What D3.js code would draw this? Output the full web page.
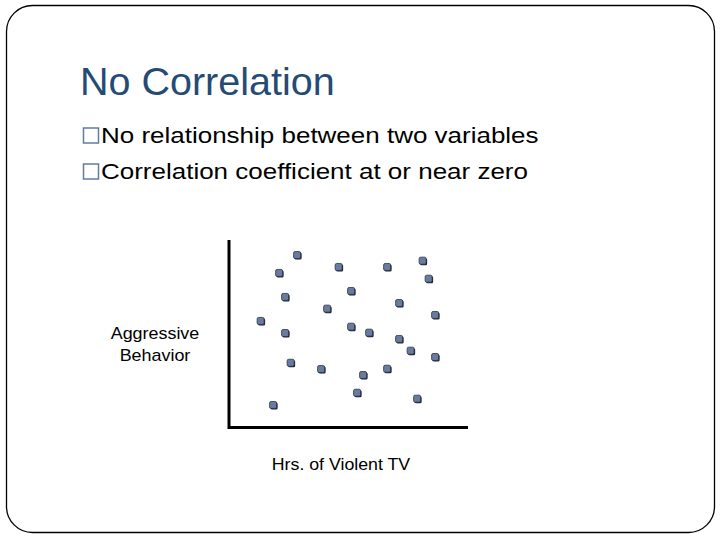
<!DOCTYPE html>
<html lang="en">
<head>
<meta charset="utf-8">
<title>No Correlation</title>
<script src="https://cdn.jsdelivr.net/npm/d3@7"></script>
<style>
  body { margin: 0; background: #fff; }
  text { font-family: Arial, "Liberation Sans", sans-serif; }
</style>
</head>
<body>
<script>
// slide text
var title = "No Correlation";
var bullets = ["No relationship between two variables",
               "Correlation coefficient at or near zero"];
var yLabel = ["Aggressive", "Behavior"];
var xLabel = "Hrs. of Violent TV";

// scatter values (0-100 on both axes)
var hrsTV = [28.8, 21.3, 46.1, 66.3, 81.1, 83.6, 23.8, 51.3, 41.3, 71.3, 86.3, 13.6, 23.8,
             51.3, 58.8, 71.3, 76.1, 86.3, 26.1, 38.8, 56.3, 66.3, 53.8, 78.8, 18.8];
var aggression = [91.9, 82.3, 85.5, 85.5, 88.9, 79.2, 69.4, 72.6, 63.1, 66.1, 59.7, 56.5, 50.0,
                  53.4, 50.2, 46.8, 40.5, 37.1, 34.0, 30.6, 27.4, 30.8, 17.9, 14.7, 11.3];

var w = 720, h = 540;

var svg = d3.select("body").append("svg")
  .attr("width", w)
  .attr("height", h);

// slide frame
svg.append("rect")
  .attr("x", 6.5).attr("y", 5.5)
  .attr("width", 708).attr("height", 527)
  .attr("rx", 26).attr("ry", 26)
  .attr("fill", "#fff")
  .attr("stroke", "#000")
  .attr("stroke-width", 1.3);

svg.append("text")
  .attr("x", 80).attr("y", 95)
  .attr("font-size", 39.5)
  .attr("fill", "#254b75")
  .text(title);

// the slide text is a bit stretched sideways, so scale x
bullets.forEach(function(b, i) {
  var by = 143 + i * 36;
  svg.append("rect")
    .attr("x", 83.5).attr("y", by - 15)
    .attr("width", 15).attr("height", 15)
    .attr("fill", "none")
    .attr("stroke", "#5f7ea3")
    .attr("stroke-width", 1.5);
  svg.append("text")
    .attr("transform", "translate(101," + by + ") scale(1.155,1)")
    .attr("font-size", 22.5)
    .attr("fill", "#000")
    .text(b);
});

// scatter
var x = d3.scaleLinear().domain([0, 100]).range([228, 468]);
var y = d3.scaleLinear().domain([0, 100]).range([426, 240]);

var pts = hrsTV.map(function(d, i) { return [d, aggression[i]]; });

var g = svg.append("g");

// little drop shadow under each dot
g.selectAll("rect.shadow")
  .data(pts)
  .enter()
  .append("rect")
  .attr("class", "shadow")
  .attr("x", function(d) { return x(d[0]) - 2.5; })
  .attr("y", function(d) { return y(d[1]) - 2.5; })
  .attr("width", 7).attr("height", 7)
  .attr("rx", 1.5)
  .attr("fill", "#1a2233");

g.selectAll("rect.dot")
  .data(pts)
  .enter()
  .append("rect")
  .attr("class", "dot")
  .attr("x", function(d) { return x(d[0]) - 3.5; })
  .attr("y", function(d) { return y(d[1]) - 3.5; })
  .attr("width", 7).attr("height", 7)
  .attr("rx", 1.5)
  .attr("fill", "#6a7b9e")
  .attr("stroke", "#2a3448")
  .attr("stroke-width", 0.8);

// axes (no ticks, just the two lines)
svg.append("path")
  .attr("d", "M" + (x(0) + 1) + "," + y(100) + "V" + (y(0) + 1.5) + "H" + x(100))
  .attr("fill", "none")
  .attr("stroke", "#000")
  .attr("stroke-width", 3);

svg.selectAll("text.ylab")
  .data(yLabel)
  .enter()
  .append("text")
  .attr("class", "ylab")
  .attr("transform", function(d, i) { return "translate(155," + (339 + i * 22) + ") scale(1.12,1)"; })
  .attr("text-anchor", "middle")
  .attr("font-size", 16)
  .text(function(d) { return d; });

svg.append("text")
  .attr("transform", "translate(341,470) scale(1.11,1)")
  .attr("text-anchor", "middle")
  .attr("font-size", 16)
  .text(xLabel);
</script>
</body>
</html>
